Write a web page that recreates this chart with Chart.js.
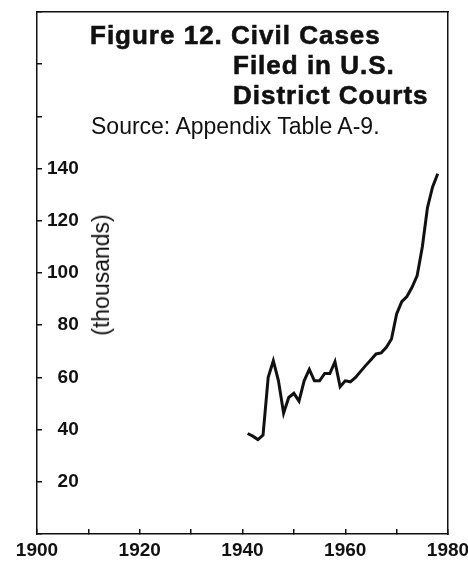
<!DOCTYPE html>
<html>
<head>
<meta charset="utf-8">
<script src="https://cdn.jsdelivr.net/npm/chart.js@4/dist/chart.umd.min.js"></script>
<style>
  html, body { margin: 0; padding: 0; background: #fff; }
  #wrap { position: relative; width: 468px; height: 562px; overflow: hidden; background: #fff; }
  canvas { position: absolute; left: 0; top: 0; }
  .t { position: absolute; font-family: "Liberation Sans", Arial, Helvetica, sans-serif; color: #111; white-space: nowrap; }
  .title { font-weight: bold; font-size: 26px; line-height: 30px; letter-spacing: 1px; -webkit-text-stroke: 0.6px #111; }
  .src { font-size: 23px; line-height: 26px; }
  .ytitle { font-size: 23px; line-height: 26px; transform: translate(-50%, -50%) rotate(-90deg); }
</style>
</head>
<body>
<div id="wrap">
  <canvas id="c" width="468" height="562"></canvas>
  <div class="t title" style="left:90px; top:20px;">Figure 12. Civil Cases</div>
  <div class="t title" style="left:233px; top:50px;">Filed in U.S.</div>
  <div class="t title" style="left:233px; top:80px;">District Courts</div>
  <div class="t src" style="left:91px; top:113px;">Source: Appendix Table A-9.</div>
  <div class="t ytitle" style="left:101px; top:275px;">(thousands)</div>
</div>
<script>
// ---- data ----
const years = [1941, 1942, 1943, 1944, 1945, 1946, 1947, 1948, 1949, 1950,
               1951, 1952, 1953, 1954, 1955, 1956, 1957, 1958, 1959, 1960,
               1961, 1962, 1963, 1964, 1965, 1966, 1967, 1968, 1969, 1970,
               1971, 1972, 1973, 1974, 1975, 1976, 1977, 1978];
const casesThousands = [38.5, 37.5, 36.2, 37.9, 60, 66.4, 58.7, 46.3, 52.3, 53.9,
                        50.9, 58.7, 63.1, 58.7, 58.7, 61.5, 61.5, 66, 56.4, 58.7,
                        58.3, 60, 62.3, 64.6, 66.8, 69, 69.4, 71.5, 74.7, 84.3,
                        89, 91, 94.5, 99, 110, 125, 133, 138];
const xTickLabels = ["1900", "1920", "1940", "1960", "1980"];
const yTickLabels = ["20", "40", "60", "80", "100", "120", "140"];

const ink = '#111';
const fontFamily = '"Liberation Sans", Arial, Helvetica, sans-serif';

const points = years.map((yr, i) => ({ x: yr, y: casesThousands[i] }));

function noPad(s) { s.paddingLeft = 0; s.paddingRight = 0; s.paddingTop = 0; s.paddingBottom = 0; }

new Chart(document.getElementById('c'), {
  type: 'line',
  data: {
    datasets: [{
      data: points,
      borderColor: ink,
      borderWidth: 3,
      pointRadius: 0,
      tension: 0,
      fill: false
    }]
  },
  options: {
    responsive: false,
    animation: false,
    devicePixelRatio: 1,
    layout: { padding: { left: 37, right: 20, top: 12, bottom: 0 } },
    plugins: { legend: { display: false }, tooltip: { enabled: false }, title: { display: false } },
    scales: {
      x: {
        type: 'linear',
        position: 'bottom',
        min: 1900, max: 1980,
        afterFit: s => { s.height = 28; noPad(s); },
        afterBuildTicks: s => { s.ticks = []; for (let v = 1900; v <= 1980; v += 10) s.ticks.push({ value: v }); },
        ticks: {
          autoSkip: false, maxRotation: 0, padding: 10,
          color: ink,
          font: { family: fontFamily, size: 19, weight: 'bold' },
          callback: v => xTickLabels.includes(String(v)) ? String(v) : ''
        },
        grid: { drawOnChartArea: false, drawTicks: true, tickLength: -5, color: ink, lineWidth: 1.5 },
        border: { display: true, color: ink, width: 1.5 }
      },
      x2: {
        type: 'linear', position: 'top', min: 0, max: 1,
        afterFit: s => { s.height = 0; noPad(s); },
        ticks: { display: false },
        grid: { drawOnChartArea: false, drawTicks: false },
        border: { display: true, color: ink, width: 1.5 }
      },
      y: {
        type: 'linear',
        position: 'left',
        min: 0, max: 200,
        afterFit: s => { s.width = 0; noPad(s); },
        afterBuildTicks: s => { s.ticks = []; for (let v = 0; v <= 200; v += 20) s.ticks.push({ value: v }); },
        ticks: {
          mirror: true, crossAlign: 'far', padding: 10,
          color: ink,
          font: { family: fontFamily, size: 19, weight: 'bold' },
          callback: v => yTickLabels.includes(String(v)) ? String(v) : ''
        },
        grid: { drawOnChartArea: false, drawTicks: true, tickLength: -5, color: ink, lineWidth: 1.5 },
        border: { display: true, color: ink, width: 1.5 }
      },
      y2: {
        type: 'linear', position: 'right', min: 0, max: 1,
        afterFit: s => { s.width = 0; noPad(s); },
        ticks: { display: false },
        grid: { drawOnChartArea: false, drawTicks: false },
        border: { display: true, color: ink, width: 1.5 }
      }
    }
  }
});
</script>
</body>
</html>
